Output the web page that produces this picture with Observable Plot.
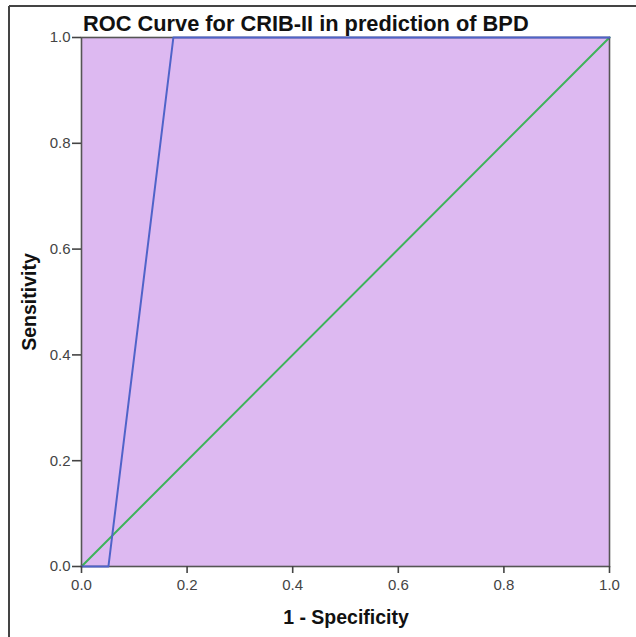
<!DOCTYPE html>
<html>
<head>
<meta charset="utf-8">
<script src="https://cdn.jsdelivr.net/npm/d3@7"></script>
<script src="https://cdn.jsdelivr.net/npm/@observablehq/plot@0.6"></script>
<style>
  html, body { margin: 0; padding: 0; background: #ffffff; }
  svg { display: block; }
</style>
</head>
<body>
<div id="chart"></div>
<script>
// ROC curve points (1 - specificity, sensitivity)
const rocFpr = [0, 0.051, 0.174, 1];
const rocTpr = [0, 0, 1, 1];
// Reference diagonal
const refFpr = [0, 1];
const refTpr = [0, 1];
// Ticks
const tickValues = [0, 0.2, 0.4, 0.6, 0.8, 1.0];
const titleText = "ROC Curve for CRIB-II in prediction of BPD";
const xTitle = "1 - Specificity";
const yTitle = "Sensitivity";

const roc = rocFpr.map((x, i) => ({x, y: rocTpr[i]}));
const ref = refFpr.map((x, i) => ({x, y: refTpr[i]}));

const W = 636, H = 637;
const mL = 81, mR = 27, mT = 37, mB = 71;
const FONT = "'Liberation Sans', Arial, sans-serif";

const chart = Plot.plot({
  width: W,
  height: H,
  marginLeft: mL,
  marginRight: mR,
  marginTop: mT,
  marginBottom: mB,
  style: {fontFamily: FONT, background: "#ffffff", overflow: "visible"},
  x: {domain: [0, 1]},
  y: {domain: [0, 1]},
  marks: [
    Plot.frame({fill: "#ddb9f1", stroke: "none"}),
    Plot.line(ref, {x: "x", y: "y", stroke: "#3db35a", strokeWidth: 2}),
    Plot.frame({stroke: "#555555", strokeWidth: 1.6}),
    Plot.line(roc, {x: "x", y: "y", stroke: "#4f63c9", strokeWidth: 2}),
    Plot.axisX({ticks: tickValues, tickFormat: d3.format(".1f"), tickSize: 7, tickPadding: 6,
      fontSize: 15, fill: "#444", stroke: "#444", strokeWidth: 1.6, label: null}),
    Plot.axisY({ticks: tickValues, tickFormat: d3.format(".1f"), tickSize: 9, tickPadding: 2,
      fontSize: 15, fill: "#444", stroke: "#444", strokeWidth: 1.6, label: null})
  ]
});

document.getElementById("chart").appendChild(chart);

const svg = d3.select(chart);
// enforce tick label size
svg.selectAll("g[aria-label$='tick label']").attr("font-size", 15);

// Outer frame (top and left edges)
svg.append("line").attr("x1", 9).attr("y1", 6).attr("x2", W).attr("y2", 6)
  .attr("stroke", "#444").attr("stroke-width", 2);
svg.append("line").attr("x1", 9).attr("y1", 6).attr("x2", 9).attr("y2", H)
  .attr("stroke", "#444").attr("stroke-width", 2);

svg.append("text").text(titleText)
  .attr("x", 83).attr("y", 31).attr("text-anchor", "start")
  .attr("font-size", 21.8).attr("font-weight", "bold").attr("fill", "#111")
  .attr("font-family", FONT);

svg.append("text").text(xTitle)
  .attr("x", 346).attr("y", 624).attr("text-anchor", "middle")
  .attr("font-size", 19.5).attr("font-weight", "bold").attr("fill", "#111")
  .attr("font-family", FONT);

svg.append("text").text(yTitle)
  .attr("transform", "translate(36,302) rotate(-90)").attr("text-anchor", "middle")
  .attr("font-size", 19.5).attr("font-weight", "bold").attr("fill", "#111")
  .attr("font-family", FONT);
</script>
</body>
</html>
